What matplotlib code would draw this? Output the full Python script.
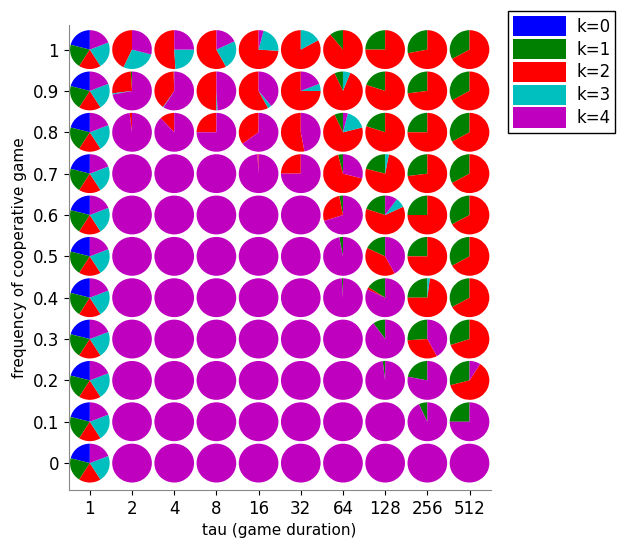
import matplotlib
matplotlib.use("Agg")
import matplotlib.pyplot as plt
from matplotlib.patches import Patch

taus = ["1", "2", "4", "8", "16", "32", "64", "128", "256", "512"]
freqs = ["0", "0.1", "0.2", "0.3", "0.4", "0.5", "0.6", "0.7", "0.8", "0.9", "1"]
labels = ["k=0", "k=1", "k=2", "k=3", "k=4"]
colors = ["#0000FF", "#008000", "#FF0000", "#00BFBF", "#BF00BF"]

# shares of k=0..4 per pie, rows listed from freq=1 down to freq=0, columns tau=1..512
mixed = [0.21, 0.20, 0.18, 0.22, 0.19]
M = [0, 0, 0, 0, 1]
row_10 = [mixed, [0, 0, .43, .28, .29], [0, 0, .51, .24, .25], [0, 0, .58, .24, .18],
          [0, 0, .74, .22, .04], [0, 0, .83, .17, 0], [0, .11, .89, 0, 0],
          [0, .25, .75, 0, 0], [0, .28, .72, 0, 0], [0, .33, .67, 0, 0]]
row_09 = [mixed, [0, .01, .26, .01, .72], [0, .005, .40, .005, .59], [0, 0, .5, .01, .49],
          [0, 0, .58, .03, .39], [0, 0, .75, .06, .19], [0, .07, .87, .06, 0],
          [0, .2, .8, 0, 0], [0, .27, .73, 0, 0], [0, .33, .67, 0, 0]]
row_08 = [mixed, [0, 0, .02, 0, .98], [0, 0, .12, 0, .88], [0, 0, .25, 0, .75],
          [0, 0, .35, 0, .65], [0, 0, .53, 0, .47], [0, .07, .72, .17, .04],
          [0, .2, .8, 0, 0], [0, .25, .75, 0, 0], [0, .33, .67, 0, 0]]
row_07 = [mixed, M, M, M, [0, 0, .01, 0, .99], [0, 0, .25, 0, .75], [0, .04, .67, 0, .29],
          [0, .21, .76, .03, 0], [0, .27, .73, 0, 0], [0, .33, .67, 0, 0]]
row_06 = [mixed, M, M, M, M, M, [0, .03, .27, 0, .70],
          [0, .2, .62, .08, .10], [0, .25, .75, 0, 0], [0, .33, .67, 0, 0]]
row_05 = [mixed, M, M, M, M, M, [0, .03, 0, 0, .97],
          [0, .18, .40, 0, .42], [0, .25, .75, 0, 0], [0, .33, .67, 0, 0]]
row_04 = [mixed, M, M, M, M, M, [0, .01, 0, 0, .99],
          [0, .16, .02, 0, .82], [0, .25, .73, .02, 0], [0, .33, .67, 0, 0]]
row_03 = [mixed, M, M, M, M, M, M, [0, .1, 0, 0, .9], [0, .26, .32, 0, .42], [0, .3, .7, 0, 0]]
row_02 = [mixed, M, M, M, M, M, M, [0, .02, 0, 0, .98], [0, .22, 0, 0, .78], [0, .29, .62, 0, .09]]
row_01 = [mixed, M, M, M, M, M, M, M, [0, .07, 0, 0, .93], [0, .25, 0, 0, .75]]
row_00 = [mixed, M, M, M, M, M, M, M, M, M]
rows = [row_00, row_01, row_02, row_03, row_04, row_05, row_06, row_07, row_08, row_09, row_10]

fig = plt.figure(figsize=(6.25, 5.46), dpi=100)
ax = fig.add_axes([0.110, 0.1026, 0.675, 0.852])

for j, row in enumerate(rows):
    for i, shares in enumerate(row):
        keep = [k for k, v in enumerate(shares) if v > 0]
        ax.pie([shares[k] for k in keep], colors=[colors[k] for k in keep],
               center=(i + 1, j), radius=0.47, startangle=90, counterclock=True,
               frame=True, wedgeprops=dict(linewidth=0))

ax.set_aspect("auto")
ax.set_xlim(0.5, 10.5)
ax.set_ylim(-0.65, 10.6)
ax.set_xticks(range(1, 11))
ax.set_xticklabels(taus, fontsize=12)
ax.set_yticks(range(11))
ax.set_yticklabels(freqs, fontsize=12)
ax.set_xlabel("tau (game duration)", fontsize=11)
ax.set_ylabel("frequency of cooperative game", fontsize=11)
for s in ax.spines.values():
    s.set_color("#888888")
ax.spines["top"].set_visible(False)
ax.spines["right"].set_visible(False)

handles = [Patch(facecolor=c, edgecolor="none", label=l) for c, l in zip(colors, labels)]
fig.legend(handles=handles, loc="upper right", bbox_to_anchor=(0.998, 0.995),
           fontsize=12, handlelength=3.2, handleheight=1.5, fancybox=False,
           edgecolor="black", framealpha=1, borderpad=0.3, labelspacing=0.15,
           handletextpad=0.6)

fig.savefig("out.png", dpi=100)
